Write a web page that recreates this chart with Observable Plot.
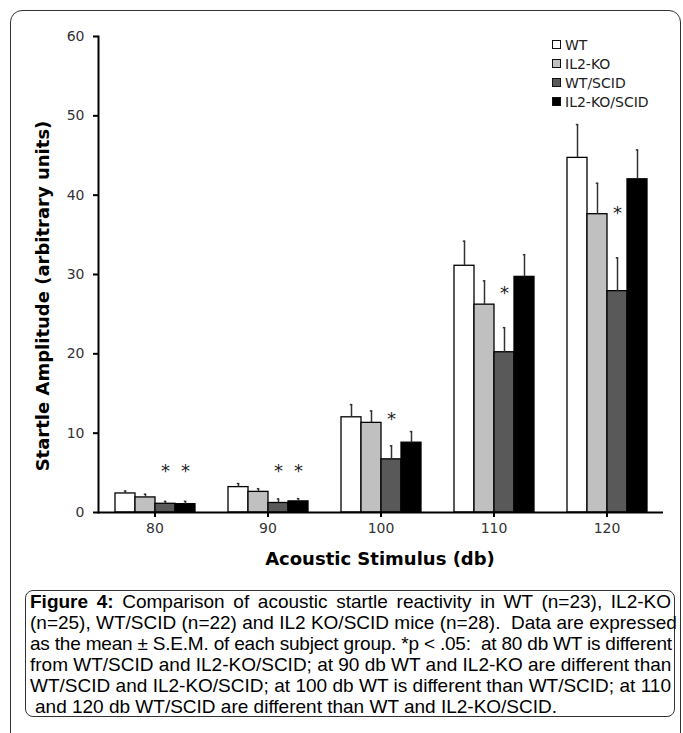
<!DOCTYPE html>
<html><head><meta charset="utf-8">
<script src="https://cdn.jsdelivr.net/npm/d3@7"></script>
<script src="https://cdn.jsdelivr.net/npm/@observablehq/plot@0.6"></script>
<style>
body{margin:0;background:#fff;width:683px;height:733px;overflow:hidden;position:relative;font-family:"DejaVu Sans",sans-serif;}
#frame{position:absolute;left:10px;top:10px;width:669px;height:780px;border:1px solid #333;border-radius:12px;}
#chart{position:absolute;left:0;top:0;}
#ylab{position:absolute;left:42px;top:296px;transform:translate(-50%,-50%) rotate(-90deg);white-space:nowrap;font-weight:bold;font-size:18px;color:#000;}
#xlab{position:absolute;left:380px;top:558px;transform:translate(-50%,-50%);white-space:nowrap;font-weight:bold;font-size:18px;color:#000;}
#legend{position:absolute;left:552px;top:35px;font-size:14px;color:#222;}
.item{height:19px;display:flex;align-items:center;}
.sw{width:7px;height:7px;border:1px solid #111;margin-right:4px;}
#caption{position:absolute;left:25px;top:590px;width:650px;height:127px;border:1px solid #333;border-radius:8px;font-family:"Liberation Sans",Arial,sans-serif;font-size:19px;line-height:21px;padding:0 3px 0 4px;box-sizing:border-box;color:#000;}
.ln{text-align:justify;text-align-last:justify;white-space:nowrap;}
.ln.tight{letter-spacing:-0.2px;}
.ln.last{text-align-last:left;padding-left:5px;}
</style></head>
<body>
<div id="frame"></div>
<div id="chart"></div>
<div id="ylab">Startle Amplitude (arbitrary units)</div>
<div id="xlab">Acoustic Stimulus (db)</div>
<div id="legend"></div>
<div id="caption">
<div class="ln"><b>Figure 4:</b> Comparison of acoustic startle reactivity in WT (n=23), IL2-KO</div>
<div class="ln">(n=25), WT/SCID (n=22) and IL2 KO/SCID mice (n=28).&nbsp; Data are expressed</div>
<div class="ln tight">as the mean ± S.E.M. of each subject group. *p &lt; .05:&nbsp; at 80 db WT is different</div>
<div class="ln">from WT/SCID and IL2-KO/SCID; at 90 db WT and IL2-KO are different than</div>
<div class="ln">WT/SCID and IL2-KO/SCID; at 100 db WT is different than WT/SCID; at 110</div>
<div class="ln last">and 120 db WT/SCID are different than WT and IL2-KO/SCID.</div>
</div>
<script>
const stimuli = [80, 90, 100, 110, 120];
const groups = ["WT", "IL2-KO", "WT/SCID", "IL2-KO/SCID"];
const groupColors = ["#ffffff", "#c0c0c0", "#595959", "#000000"];
const yTicks = [0, 10, 20, 30, 40, 50, 60];

const wtMean = [2.4, 3.2, 12.0, 31.1, 44.7];
const wtSem = [0.3, 0.45, 1.6, 3.1, 4.2];
const il2koMean = [1.9, 2.6, 11.3, 26.2, 37.6];
const il2koSem = [0.4, 0.4, 1.5, 3.0, 3.9];
const wtScidMean = [1.1, 1.2, 6.7, 20.2, 27.9];
const wtScidSem = [0.3, 0.5, 1.7, 3.1, 4.2];
const il2koScidMean = [1.05, 1.4, 8.8, 29.7, 42.0];
const il2koScidSem = [0.35, 0.35, 1.4, 2.8, 3.7];

const starStim = [80, 80, 90, 90, 100, 110, 120];
const starGroup = ["WT/SCID", "IL2-KO/SCID", "WT/SCID", "IL2-KO/SCID", "WT/SCID", "WT/SCID", "WT/SCID"];
const starY = [5.8, 5.8, 5.8, 5.8, 12.4, 28.3, 38.3];

const meansByGroup = [wtMean, il2koMean, wtScidMean, il2koScidMean];
const semsByGroup = [wtSem, il2koSem, wtScidSem, il2koScidSem];
const table = [];
groups.forEach((g, gi) => stimuli.forEach((s, si) => {
  table.push({stim: s, group: g, mean: meansByGroup[gi][si], top: meansByGroup[gi][si] + semsByGroup[gi][si]});
}));
const stars = starStim.map((s, i) => ({stim: s, group: starGroup[i], y: starY[i]}));

const chart = Plot.plot({
  width: 683, height: 580,
  marginLeft: 97, marginRight: 20, marginTop: 36, marginBottom: 68,
  fx: {domain: stimuli, padding: 0, axis: null},
  x: {domain: groups, paddingInner: 0, paddingOuter: 0.74, axis: null},
  y: {domain: [0, 60], axis: null},
  color: {domain: groups, range: groupColors},
  style: {fontFamily: "DejaVu Sans, sans-serif", fontSize: "14px", background: "transparent", color: "#000"},
  marks: [
    Plot.barY(table, {fx: "stim", x: "group", y: "mean", fill: "group", stroke: "#000", strokeWidth: 1.3}),
    Plot.ruleX(table, {fx: "stim", x: "group", y1: "mean", y2: "top", stroke: "#333", strokeWidth: 1.5}),
    Plot.tickY(table, {fx: "stim", x: "group", y: "top", stroke: "#333", strokeWidth: 1.5, insetLeft: 8.8, insetRight: 8.8}),
    Plot.text(stars, {fx: "stim", x: "group", y: "y", text: () => "*", fontSize: 18, fill: "#222", dy: 5}),
    Plot.ruleY([0], {stroke: "#000", strokeWidth: 2}),
    Plot.frame({anchor: "left", facetAnchor: "left", stroke: "#000", strokeWidth: 2}),
    Plot.axisY({ticks: yTicks, tickSize: 5, tickPadding: 9, label: null, fontSize: 14, fill: "#333", stroke: "#000", strokeWidth: 2}),
    Plot.axisFx({anchor: "bottom", tickSize: 5, tickPadding: 6, label: null, fontSize: 14, fill: "#333", stroke: "#000", strokeWidth: 2})
  ]
});
document.getElementById("chart").appendChild(chart);

const legend = document.getElementById("legend");
groups.forEach((g, i) => {
  const item = document.createElement("div");
  item.className = "item";
  const sw = document.createElement("div");
  sw.className = "sw";
  sw.style.background = groupColors[i];
  const t = document.createElement("span");
  t.textContent = g;
  item.appendChild(sw); item.appendChild(t);
  legend.appendChild(item);
});
</script>
</body></html>
